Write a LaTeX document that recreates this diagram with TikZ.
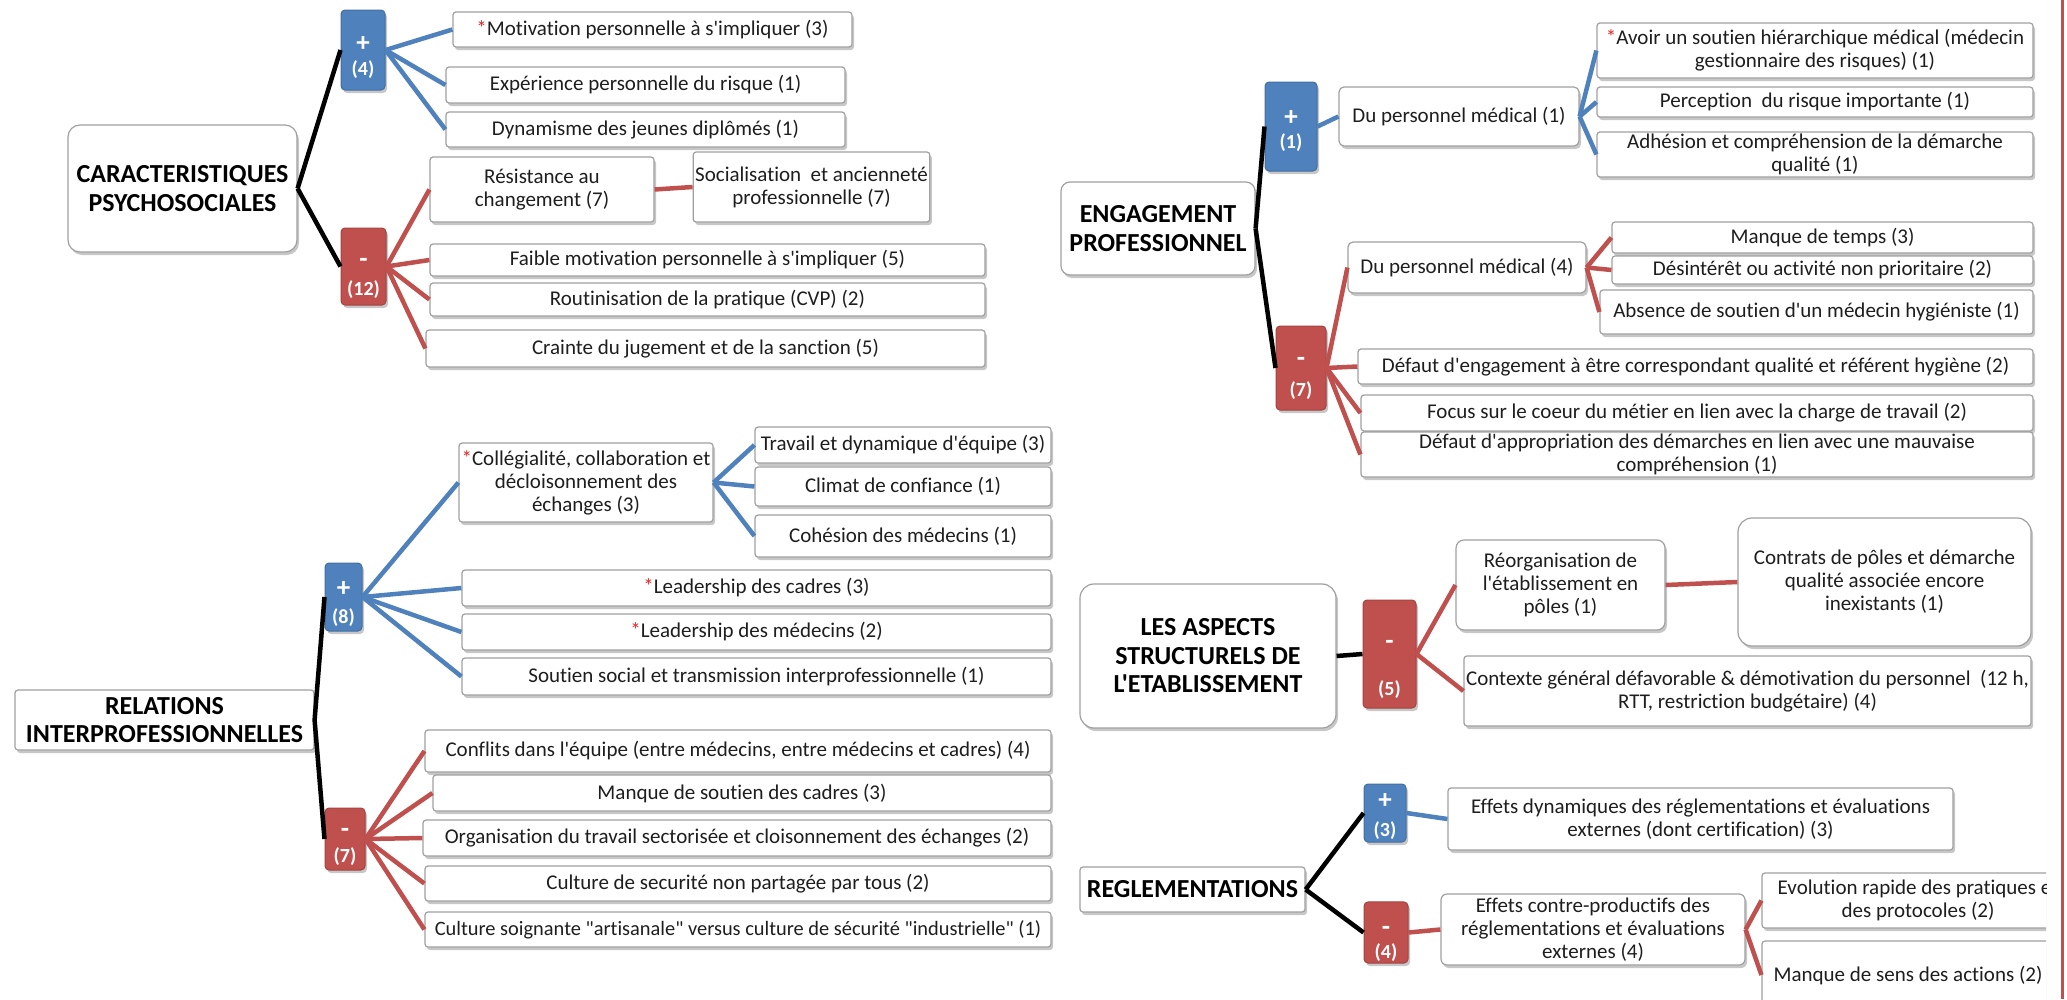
\documentclass[tikz,border=0pt]{standalone}
\usepackage{fontspec}
\setmainfont{Carlito}[Ligatures={TeXOff,CommonOff}]
\usetikzlibrary{shadows}

\definecolor{posblue}{HTML}{4F81BD}
\definecolor{negred}{HTML}{C0504D}
\definecolor{boxline}{HTML}{A0A0A0}
\definecolor{boxtext}{HTML}{1E1E1E}
\definecolor{starred}{HTML}{E02424}

\newcommand\redstar{\textcolor{starred}{*}}
% sign of a tally box; #1 = height reserved above its baseline
\newcommand\sign[2]{\rule{0pt}{#1pt}{\fontsize{27}{24}\selectfont #2}}
% [style]{name}{x1}{y1}{x2}{y2}{text}: a box given by its corners
\newcommand\placebox[7][]{%
  \node[#1, minimum width={#5-#3}, minimum height={#6-#4}] (#2)
    at ({(#3+#5)/2},{(#4+#6)/2}) {#7};}

\tikzset{
  softshadow/.style={drop shadow={shadow xshift=2pt, shadow yshift=-3pt, fill=black!40, opacity=0.55}},
  leaf/.style={draw=boxline, fill=white, line width=1.2pt, rounded corners=3pt,
    align=center, inner sep=2pt, text=boxtext,
    font=\fontsize{21}{23}\selectfont, softshadow},
  root/.style={leaf, text=black, font=\bfseries\fontsize{26}{28.5}\selectfont},
  posbox/.style={fill=posblue, draw=posblue!85!black, line width=1pt, rounded corners=4pt,
    text=white, align=center, inner sep=1pt,
    font=\bfseries\fontsize{20}{24}\selectfont, softshadow},
  negbox/.style={posbox, fill=negred, draw=negred!85!black},
  poslink/.style={draw=posblue, line width=4.5pt},
  neglink/.style={draw=negred, line width=4.5pt},
  trunk/.style={draw=black, line width=4.5pt},
}

\begin{document}
\begin{tikzpicture}[x=1pt,y=-1pt]
\useasboundingbox (0,0) rectangle (2067,999);
\begin{scope}
\clip (0,0) rectangle (2046,999);

% ---------------- Caracteristiques psychosociales
\placebox[root, rounded corners=12pt]{cps}{68}{125}{297}{252}{CARACTERISTIQUES\\PSYCHOSOCIALES}
\placebox[posbox]{cpsP}{341}{10}{385}{90}{\sign{31}{+}\\[0pt](4)}
\placebox[negbox]{cpsN}{341}{228}{386}{305}{\sign{33}{-}\\[4pt](12)}
\placebox[leaf]{cpsP1}{453}{12}{852}{47}{\redstar Motivation personnelle à s'impliquer (3)}
\placebox[leaf]{cpsP2}{446}{67}{845}{103}{Expérience personnelle du risque (1)}
\placebox[leaf]{cpsP3}{446}{112}{845}{147}{Dynamisme des jeunes diplômés (1)}
\placebox[leaf]{cpsN1}{430}{157}{654}{222}{Résistance au\\changement (7)}
\placebox[leaf]{cpsN1a}{695}{152}{928}{222}{Socialisation~ et ancienneté\\professionnelle (7)}
\placebox[leaf]{cpsN2}{430}{244}{985}{276}{Faible motivation personnelle à s'impliquer (5)}
\placebox[leaf]{cpsN3}{430}{283}{985}{316}{Routinisation de la pratique (CVP) (2)}
\placebox[leaf]{cpsN4}{426}{330}{985}{367}{Crainte du jugement et de la sanction (5)}

\draw[trunk] (cps.east) -- (cpsP.west);
\draw[trunk] (cps.east) -- (cpsN.west);
\foreach \c in {cpsP1,cpsP2,cpsP3} \draw[poslink] (cpsP.east) -- (\c.west);
\foreach \c in {cpsN1,cpsN2,cpsN3,cpsN4} \draw[neglink] (cpsN.east) -- (\c.west);
\draw[neglink] (cpsN1.east) -- (cpsN1a.west);

% ---------------- Engagement professionnel
\placebox[root, rounded corners=9pt]{eng}{1061}{182}{1255}{275}{ENGAGEMENT\\PROFESSIONNEL}
\placebox[posbox]{engP}{1265}{82}{1317}{171}{\sign{24}{+}\\[-1pt](1)}
\placebox[negbox]{engN}{1276}{326}{1326}{410}{\sign{30}{-}\\[6pt](7)}
\placebox[leaf, rounded corners=5pt]{engP1}{1339}{87}{1579}{146}{Du personnel médical (1)}
\placebox[leaf]{engP1a}{1597}{23}{2033}{78}{\redstar Avoir un soutien hiérarchique médical (médecin\\gestionnaire des risques) (1)}
\placebox[leaf]{engP1b}{1597}{87}{2033}{117}{Perception~ du risque importante (1)}
\placebox[leaf]{engP1c}{1597}{132}{2033}{177}{Adhésion et compréhension de la démarche\\qualité (1)}
\placebox[leaf, rounded corners=5pt]{engN1}{1348}{242}{1586}{293}{Du personnel médical (4)}
\placebox[leaf]{engN1a}{1612}{222}{2033}{253}{Manque de temps (3)}
\placebox[leaf]{engN1b}{1612}{256}{2033}{284}{Désintérêt ou activité non prioritaire (2)}
\placebox[leaf]{engN1c}{1600}{290}{2033}{334}{Absence de soutien d'un médecin hygiéniste (1)}
\placebox[leaf]{engN2}{1358}{349}{2033}{384}{Défaut d'engagement à être correspondant qualité et référent hygiène (2)}
\placebox[leaf]{engN3}{1361}{395}{2033}{431}{Focus sur le coeur du métier en lien avec la charge de travail (2)}
\placebox[leaf]{engN4}{1361}{432}{2033}{477}{Défaut d'appropriation des démarches en lien avec une mauvaise\\compréhension (1)}

\draw[trunk] (eng.east) -- (engP.west);
\draw[trunk] (eng.east) -- (engN.west);
\draw[poslink] (engP.east) -- (engP1.west);
\foreach \c in {engP1a,engP1b,engP1c} \draw[poslink] (engP1.east) -- (\c.west);
\foreach \c in {engN1,engN2,engN3,engN4} \draw[neglink] (engN.east) -- (\c.west);
\foreach \c in {engN1a,engN1b,engN1c} \draw[neglink] (engN1.east) -- (\c.west);

% ---------------- Relations interprofessionnelles
\placebox[root]{rel}{15}{690}{314}{750}{RELATIONS\\INTERPROFESSIONNELLES}
\placebox[posbox]{relP}{325}{563}{362}{631}{\sign{30}{+}\\[3pt](8)}
\placebox[negbox]{relN}{325}{808}{365}{870}{\sign{25}{-}\\[1pt](7)}
\placebox[leaf]{relP1}{459}{443}{713}{522}{\redstar Collégialité, collaboration et\\décloisonnement des\\échanges (3)}
\placebox[leaf]{relP1a}{755}{427}{1051}{463}{Travail et dynamique d'équipe (3)}
\placebox[leaf]{relP1b}{755}{467}{1051}{506}{Climat de confiance (1)}
\placebox[leaf]{relP1c}{755}{515}{1051}{557}{Cohésion des médecins (1)}
\placebox[leaf]{relP2}{462}{570}{1051}{606}{\redstar Leadership des cadres (3)}
\placebox[leaf]{relP3}{462}{614}{1051}{650}{\redstar Leadership des médecins (2)}
\placebox[leaf]{relP4}{462}{658}{1051}{695}{Soutien social et transmission interprofessionnelle (1)}
\placebox[leaf]{relN1}{425}{730}{1051}{772}{Conflits dans l'équipe (entre médecins, entre médecins et cadres) (4)}
\placebox[leaf]{relN2}{433}{775}{1051}{811}{Manque de soutien des cadres (3)}
\placebox[leaf]{relN3}{423}{820}{1051}{856}{Organisation du travail sectorisée et cloisonnement des échanges (2)}
\placebox[leaf]{relN4}{425}{866}{1051}{901}{Culture de securité non partagée par tous (2)}
\placebox[leaf, font=\fontsize{20.4}{23}\selectfont, inner sep=1pt]{relN5}{425}{912}{1051}{947}{Culture soignante "artisanale" versus culture de sécurité "industrielle" (1)}

\draw[trunk] (rel.east) -- (relP.west);
\draw[trunk] (rel.east) -- (relN.west);
\foreach \c in {relP1,relP2,relP3,relP4} \draw[poslink] (relP.east) -- (\c.west);
\foreach \c in {relP1a,relP1b,relP1c} \draw[poslink] (relP1.east) -- (\c.west);
\foreach \c in {relN1,relN2,relN3,relN4,relN5} \draw[neglink] (relN.east) -- (\c.west);

% ---------------- Aspects structurels
\placebox[root, rounded corners=14pt]{str}{1080}{584}{1336}{728}{LES ASPECTS\\STRUCTURELS DE\\L'ETABLISSEMENT}
\placebox[negbox]{strN}{1363}{600}{1416}{708}{\sign{40}{-}\\[22pt](5)}
\placebox[leaf, rounded corners=8pt]{strN1}{1456}{540}{1665}{630}{Réorganisation de\\l'établissement en\\pôles (1)}
\placebox[leaf, rounded corners=14pt]{strN1a}{1738}{518}{2031}{646}{Contrats de pôles et démarche\\qualité associée encore\\inexistants (1)}
\placebox[leaf]{strN2}{1464}{656}{2031}{726}{Contexte général défavorable \& démotivation du personnel~ (12 h,\\RTT, restriction budgétaire) (4)}

\draw[trunk] (str.east) -- (strN.west);
\draw[neglink] (strN.east) -- (strN1.west);
\draw[neglink] (strN.east) -- (strN2.west);
\draw[neglink] (strN1.east) -- (strN1a.west);

% ---------------- Reglementations
\placebox[root]{reg}{1080}{867}{1305}{912}{REGLEMENTATIONS}
\placebox[posbox]{regP}{1364}{784}{1406}{842}{\sign{23}{+}\\[4pt](3)}
\placebox[negbox]{regN}{1364}{903}{1408}{962}{\sign{32}{-}\\[0pt](4)}
\placebox[leaf]{regP1}{1448}{788}{1953}{850}{Effets dynamiques des réglementations et évaluations\\externes (dont certification) (3)}
\placebox[leaf, rounded corners=6pt]{regN1}{1441}{894}{1745}{965}{Effets contre-productifs des\\réglementations et évaluations\\externes (4)}
\placebox[leaf]{regN1a}{1762}{873}{2074}{928}{Evolution rapide des pratiques et\\des protocoles (2)}
\placebox[leaf]{regN1b}{1762}{941}{2054}{1009}{Manque de sens des actions (2)}

\draw[trunk] (reg.east) -- (regP.west);
\draw[trunk] (reg.east) -- (regN.west);
\draw[poslink] (regP.east) -- (regP1.west);
\draw[neglink] (regN.east) -- (regN1.west);
\draw[neglink] (regN1.east) -- (regN1a.west);
\draw[neglink] (regN1.east) -- (regN1b.west);
\end{scope}

% frame rule along the right edge
\draw[negred, line width=3pt] (2062.5,0) -- (2062.5,999);
\end{tikzpicture}
\end{document}
